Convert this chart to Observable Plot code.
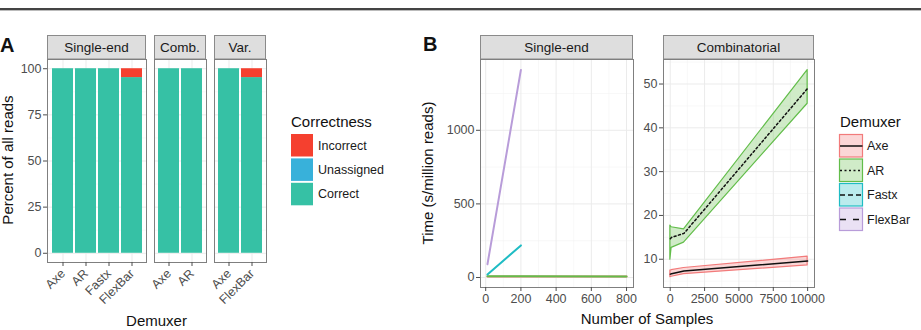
<!DOCTYPE html>
<html><head><meta charset="utf-8">
<script src="https://cdn.jsdelivr.net/npm/d3@7"></script>
<script src="https://cdn.jsdelivr.net/npm/@observablehq/plot@0.6"></script>
<style>
body{margin:0;background:#fff;}
#root{position:relative;width:921px;height:330px;overflow:hidden;background:#fff;font-family:"Liberation Sans",Arial,sans-serif;}
#root svg{overflow:visible;}
</style></head>
<body><div id="root"></div>
<script>
// ---------- data ----------
const corrLevels = ["Incorrect","Unassigned","Correct"];
const corrColors = ["#f5402f","#38b1da","#36c1a5"];

const facetsA = ["Single-end","Comb.","Var."];
const barFacet = ["Single-end","Single-end","Single-end","Single-end","Comb.","Comb.","Var.","Var."];
const barDemuxer = ["Axe","AR","Fastx","FlexBar","Axe","AR","Axe","FlexBar"];
const correctPct = [100,100,100,95.2,100,100,100,95.2];
const unassignedPct = [0,0,0,0,0,0,0,0];
const incorrectPct = [0,0,0,4.8,0,0,0,4.8];
const percentTicks = [0,25,50,75,100];

const facetsB = ["Single-end","Combinatorial"];
const demuxers = ["Axe","AR","Fastx","FlexBar"];
const demuxColors = ["#f27b7b","#62bd4a","#1fbcc4","#b89cd9"];
const demuxDash = ["none","2,2.5","5,3","6,7"];

// Single-end timings
const seDemuxer = ["Axe","Axe","AR","AR","AR","Fastx","Fastx","FlexBar","FlexBar"];
const seSamples = [10,800,10,200,800,10,200,10,200];
const seTime    = [7,7,8,8,7,20,218,90,1410];
const seXTicks = [0,200,400,600,800];
const seYTicks = [0,500,1000];

// Combinatorial timings
const cbDemuxer = ["Axe","Axe","Axe","Axe","AR","AR","AR","AR"];
const cbSamples = [10,100,1000,10000,10,100,1000,10000];
const cbMean = [6.6,6.7,7.3,9.6,14.7,15.0,15.9,49.0];
const cbLow  = [5.9,6.0,6.6,8.6,9.9,12.6,13.8,45.5];
const cbHigh = [7.4,7.5,8.0,10.6,17.7,17.3,16.8,53.2];
const cbXTicks = [0,2500,5000,7500,10000];
const cbYTicks = [10,20,30,40,50];

// ---------- helpers ----------
const FONT = "Liberation Sans, Arial, sans-serif";
const root = document.getElementById("root");
const ov = d3.select(root).append("svg")
  .attr("width",921).attr("height",330)
  .style("position","absolute").style("left","0px").style("top","0px")
  .style("font-family",FONT);

const GRID_MAJ = {stroke:"#ebebeb", strokeOpacity:1, strokeWidth:1};
const GRID_MIN = {stroke:"#f3f3f3", strokeOpacity:1, strokeWidth:0.6};
const FRAME = {stroke:"#7f7f7f", strokeWidth:1};

function panel({left, top, width, height, mL=3, mR=3, mT=3, mB=50, x, y, color, marks}) {
  const svg = Plot.plot({
    width: width+mL+mR, height: height+mT+mB,
    marginLeft: mL, marginRight: mR, marginTop: mT, marginBottom: mB,
    x, y, color,
    style: {fontFamily: FONT, fontSize: "12.5px", color: "#4d4d4d", background: "transparent", overflow: "visible"},
    marks
  });
  const wrap = document.createElement("div");
  wrap.style.cssText = `position:absolute;left:${left-mL}px;top:${top-mT}px;`;
  wrap.appendChild(svg);
  root.appendChild(wrap);
}

function strip(x, w, label) {
  ov.append("rect").attr("x",x+0.5).attr("y",35.5).attr("width",w-1).attr("height",23.5)
    .attr("fill","#dedede").attr("stroke","#8a8a8a").attr("stroke-width",1);
  ov.append("text").attr("x",x+w/2).attr("y",52).attr("text-anchor","middle")
    .attr("font-size","13.5px").attr("fill","#1a1a1a").text(label);
}

// ---------- Panel A ----------
const aLayout = {"Single-end":{left:47,width:99}, "Comb.":{left:154,width:52}, "Var.":{left:214,width:52}};
facetsA.forEach((f, fi) => {
  const rows = [];
  const cats = [];
  barDemuxer.forEach((d,i) => {
    if (barFacet[i] !== f) return;
    cats.push(d);
    rows.push({demuxer:d, correctness:"Correct", value:correctPct[i]});
    rows.push({demuxer:d, correctness:"Unassigned", value:unassignedPct[i]});
    rows.push({demuxer:d, correctness:"Incorrect", value:incorrectPct[i]});
  });
  const L = aLayout[f];
  const minor = [12.5,37.5,62.5,87.5];
  panel({
    left:L.left, top:59, width:L.width, height:203,
    mL: fi===0 ? 47 : 3, mB: 60,
    x:{type:"band", domain:cats, paddingInner:0.1, paddingOuter:0.15},
    y: fi===0 ? {domain:[-5,105]} : {domain:[-5,105], axis:null},
    color:{domain:corrLevels, range:corrColors},
    marks:[
      Plot.gridY(minor, GRID_MIN),
      Plot.gridY(percentTicks, GRID_MAJ),
      Plot.gridX(cats, GRID_MAJ),
      Plot.barY(rows, {x:"demuxer", y:"value", fill:"correctness"}),
      Plot.frame(FRAME),
      fi===0 ? Plot.axisY({ticks:percentTicks, tickSize:4, tickPadding:2, label:null}) : null,
      Plot.axisX({tickRotate:-45, tickSize:4, tickPadding:5, label:null, textAnchor:"end"})
    ]
  });
  strip(L.left, L.width, f);
});

// ---------- Panel B: Single-end ----------
const seRows = seDemuxer.map((d,i)=>({demuxer:d, samples:seSamples[i], time:seTime[i]}));
panel({
  left:480, top:59, width:153, height:228, mL:50, mR:10, mB:30,
  x:{domain:[-29.5,839.5]},
  y:{domain:[-68,1481]},
  color:{domain:demuxers, range:demuxColors},
  marks:[
    Plot.gridX([100,300,500,700], GRID_MIN),
    Plot.gridY([250,750,1250], GRID_MIN),
    Plot.gridX(seXTicks, GRID_MAJ),
    Plot.gridY(seYTicks, GRID_MAJ),
    Plot.line(seRows, {x:"samples", y:"time", z:"demuxer", stroke:"demuxer", strokeWidth:2}),
    Plot.frame(FRAME),
    Plot.axisY({ticks:seYTicks, tickSize:4, tickPadding:2, tickFormat:"d", label:null}),
    Plot.axisX({ticks:seXTicks, tickSize:4, tickPadding:3, tickFormat:"d", label:null})
  ]
});
strip(480, 153, facetsB[0]);

// ---------- Panel B: Combinatorial ----------
const cbRows = cbDemuxer.map((d,i)=>({demuxer:d, samples:cbSamples[i], mean:cbMean[i], lo:cbLow[i], hi:cbHigh[i]}));
const dashOf = d => demuxDash[demuxers.indexOf(d)];
panel({
  left:663, top:59, width:151, height:228, mL:30, mR:25, mB:30,
  x:{domain:[-489.5,10499.5]},
  y:{domain:[3.55,55.6]},
  color:{domain:demuxers, range:demuxColors},
  marks:[
    Plot.gridX([1250,3750,6250,8750], GRID_MIN),
    Plot.gridY([5,15,25,35,45,55], GRID_MIN),
    Plot.gridX(cbXTicks, GRID_MAJ),
    Plot.gridY(cbYTicks, GRID_MAJ),
    Plot.areaY(cbRows, {x:"samples", y1:"lo", y2:"hi", z:"demuxer", fill:"demuxer", fillOpacity:0.3, stroke:"demuxer", strokeWidth:1.2}),
    ...demuxers.map(d => Plot.line(cbRows.filter(r=>r.demuxer===d), {x:"samples", y:"mean", stroke:"#111", strokeWidth:1.5, strokeDasharray: dashOf(d)==="none"?null:dashOf(d)})),
    Plot.frame(FRAME),
    Plot.axisY({ticks:cbYTicks, tickSize:4, tickPadding:2, tickFormat:"d", label:null}),
    Plot.axisX({ticks:cbXTicks, tickSize:4, tickPadding:3, tickFormat:"d", label:null})
  ]
});
strip(663, 151, facetsB[1]);

// ---------- decorations ----------
ov.append("rect").attr("x",0).attr("y",8).attr("width",921).attr("height",2).attr("fill","#444");
ov.append("rect").attr("x",0).attr("y",10).attr("width",921).attr("height",1).attr("fill","#bbb");
ov.append("text").attr("x",0).attr("y",52).attr("font-size","20px").attr("font-weight","bold").attr("fill","#111").text("A");
ov.append("text").attr("x",423).attr("y",51).attr("font-size","20px").attr("font-weight","bold").attr("fill","#111").text("B");

function yTitle(x, y, t){
  ov.append("text").attr("transform",`translate(${x},${y}) rotate(-90)`).attr("text-anchor","middle")
    .attr("font-size","15px").attr("fill","#111").text(t);
}
function xTitle(x, y, t){
  ov.append("text").attr("x",x).attr("y",y).attr("text-anchor","middle")
    .attr("font-size","15px").attr("fill","#111").text(t);
}
yTitle(12.5, 160, "Percent of all reads");
xTitle(156.5, 326, "Demuxer");
yTitle(433, 173, "Time (s/million reads)");
xTitle(647, 324, "Number of Samples");

// Correctness legend
ov.append("text").attr("x",291).attr("y",127).attr("font-size","15px").attr("fill","#111").text("Correctness");
corrLevels.forEach((c,i)=>{
  const y0 = 134 + i*24.4;
  ov.append("rect").attr("x",291).attr("y",y0).attr("width",22).attr("height",22.5).attr("fill",corrColors[i]);
  ov.append("text").attr("x",318).attr("y",y0+15.5).attr("font-size","12.5px").attr("fill","#1a1a1a").text(c);
});

// Demuxer legend
ov.append("text").attr("x",840).attr("y",127).attr("font-size","15px").attr("fill","#111").text("Demuxer");
demuxers.forEach((d,i)=>{
  const y0 = 134 + i*24.5;
  const c = d3.color(demuxColors[i]); c.opacity = 0.3;
  ov.append("rect").attr("x",839.5).attr("y",y0+0.5).attr("width",23).attr("height",22.5)
    .attr("fill",c.formatRgb()).attr("stroke",demuxColors[i]).attr("stroke-width",1.2);
  const ln = ov.append("line").attr("x1",840).attr("x2",862.5).attr("y1",y0+12).attr("y2",y0+12)
    .attr("stroke","#111").attr("stroke-width",1.5);
  if (demuxDash[i] !== "none") ln.attr("stroke-dasharray",demuxDash[i]);
  ov.append("text").attr("x",867).attr("y",y0+16).attr("font-size","12.5px").attr("fill","#1a1a1a").text(d);
});
</script>
</body></html>
